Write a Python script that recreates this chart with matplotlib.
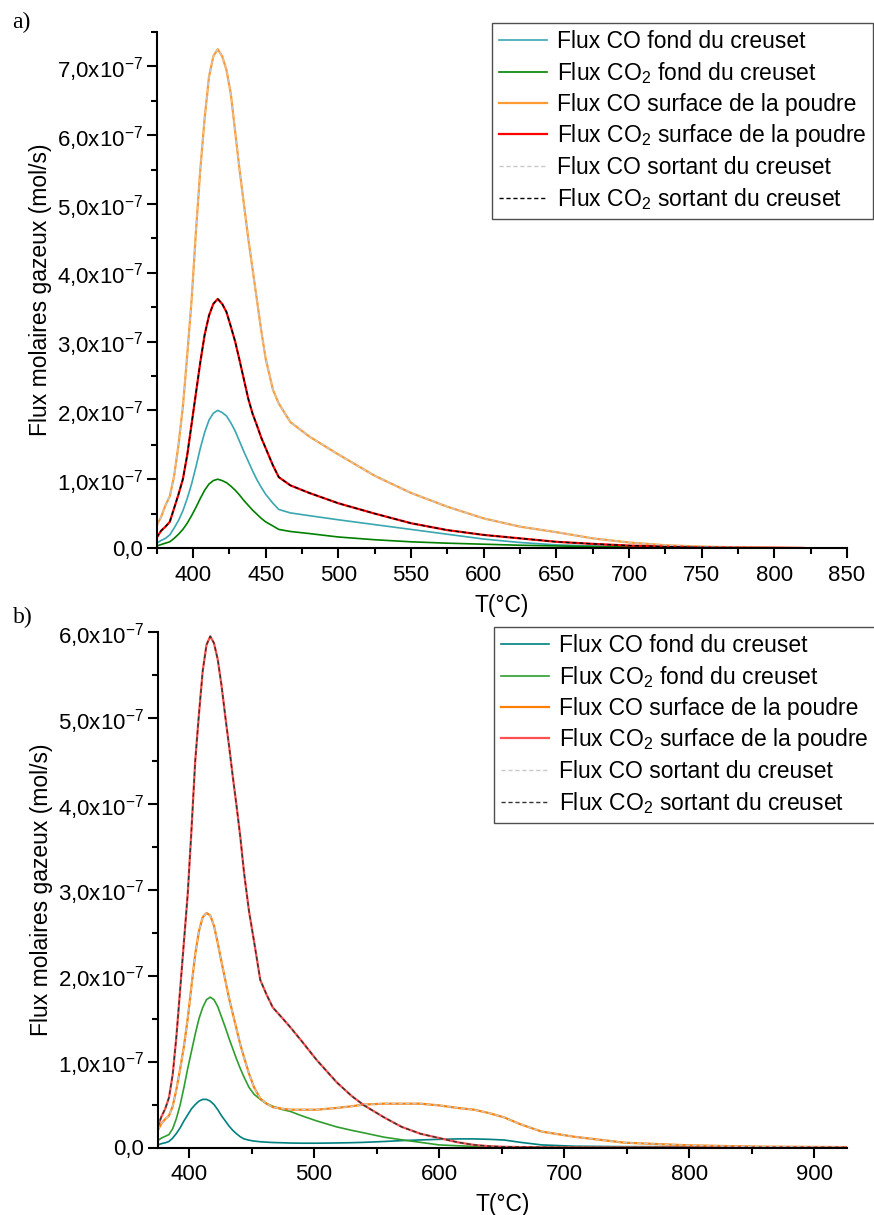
import numpy as np
import matplotlib
matplotlib.use('Agg')
import matplotlib.pyplot as plt
from matplotlib.ticker import MultipleLocator, FuncFormatter

plt.rcParams['font.family'] = ['Liberation Sans', 'DejaVu Sans']
plt.rcParams['mathtext.default'] = 'regular'

# ---- panel a data (flux in 1e-7 mol/s) ----
T_a = [375, 378, 381, 384, 387, 390, 393, 396, 399, 402,
       405, 408, 411, 414, 417, 420, 423, 426, 429, 432,
       435, 438, 441, 444, 447, 450, 455, 459, 467, 480,
       500, 525, 550, 575, 600, 625, 650, 675, 700, 725,
       750, 775, 800, 820]
co_fond_a = [0.07, 0.11, 0.14, 0.19, 0.29, 0.40, 0.54, 0.72, 0.93, 1.18,
             1.45, 1.68, 1.86, 1.96, 2.00, 1.97, 1.92, 1.82, 1.70, 1.55,
             1.40, 1.26, 1.12, 0.99, 0.88, 0.78, 0.65, 0.56, 0.51, 0.47,
             0.41, 0.34, 0.27, 0.20, 0.13, 0.08, 0.045, 0.03, 0.02, 0.012,
             0.008, 0.004, 0.002, 0.0]
co2_fond_a = [0.03, 0.05, 0.07, 0.09, 0.14, 0.20, 0.27, 0.36, 0.47, 0.59,
              0.72, 0.84, 0.93, 0.98, 1.00, 0.98, 0.95, 0.90, 0.84, 0.77,
              0.69, 0.62, 0.55, 0.49, 0.43, 0.38, 0.32, 0.27, 0.24, 0.21,
              0.16, 0.12, 0.09, 0.07, 0.055, 0.04, 0.03, 0.02, 0.015, 0.01,
              0.005, 0.003, 0.002, 0.0]
co_surf_a = [0.33, 0.45, 0.62, 0.75, 1.05, 1.50, 2.05, 2.80, 3.60, 4.60,
             5.50, 6.25, 6.85, 7.15, 7.25, 7.15, 6.95, 6.60, 6.05, 5.50,
             5.00, 4.50, 4.05, 3.60, 3.15, 2.75, 2.30, 2.10, 1.83, 1.62,
             1.36, 1.05, 0.80, 0.60, 0.43, 0.31, 0.23, 0.14, 0.08, 0.04,
             0.02, 0.01, 0.005, 0.0]
co2_surf_a = [0.15, 0.25, 0.31, 0.38, 0.58, 0.78, 1.00, 1.35, 1.80, 2.25,
              2.70, 3.10, 3.38, 3.55, 3.62, 3.55, 3.43, 3.22, 3.00, 2.73,
              2.45, 2.17, 1.95, 1.78, 1.60, 1.45, 1.20, 1.03, 0.91, 0.80,
              0.65, 0.50, 0.36, 0.26, 0.19, 0.14, 0.09, 0.06, 0.035, 0.02,
              0.01, 0.005, 0.003, 0.0]

# ---- panel b data ----
T_b = [375, 378, 381, 384, 387, 390, 393, 396, 399, 402,
       405, 408, 411, 414, 417, 420, 423, 426, 429, 432,
       435, 438, 441, 444, 448, 452, 457, 462, 467, 475,
       481, 490, 502, 518, 530, 540, 556, 570, 585, 600,
       615, 628, 640, 652, 665, 682, 708, 748, 800, 855,
       925]
co_fond_b = [0.03, 0.045, 0.055, 0.07, 0.11, 0.165, 0.23, 0.31, 0.38, 0.45,
             0.50, 0.54, 0.56, 0.56, 0.54, 0.50, 0.44, 0.37, 0.31, 0.25,
             0.20, 0.16, 0.125, 0.10, 0.085, 0.075, 0.067, 0.062, 0.058, 0.055,
             0.052, 0.05, 0.05, 0.053, 0.056, 0.06, 0.07, 0.08, 0.088, 0.095,
             0.10, 0.10, 0.095, 0.087, 0.06, 0.03, 0.015, 0.01, 0.01, 0.008,
             0.005]
co2_fond_b = [0.08, 0.11, 0.13, 0.15, 0.22, 0.34, 0.50, 0.70, 0.92, 1.12,
              1.32, 1.50, 1.63, 1.72, 1.75, 1.72, 1.64, 1.52, 1.40, 1.27,
              1.15, 1.03, 0.92, 0.82, 0.70, 0.62, 0.56, 0.51, 0.48, 0.44,
              0.42, 0.37, 0.31, 0.24, 0.20, 0.17, 0.12, 0.09, 0.06, 0.03,
              0.02, 0.013, 0.01, 0.007, 0.005, 0.003, 0.002, 0.0, 0.0, 0.0,
              0.0]
co_surf_b = [0.20, 0.28, 0.33, 0.37, 0.48, 0.68, 0.92, 1.18, 1.50, 1.88,
             2.25, 2.52, 2.68, 2.73, 2.70, 2.58, 2.38, 2.16, 1.95, 1.74,
             1.56, 1.38, 1.20, 1.05, 0.86, 0.70, 0.57, 0.51, 0.47, 0.45,
             0.44, 0.44, 0.44, 0.46, 0.48, 0.50, 0.51, 0.51, 0.51, 0.49,
             0.46, 0.44, 0.40, 0.35, 0.27, 0.185, 0.125, 0.056, 0.025, 0.01,
             0.005]
co2_surf_b = [0.24, 0.36, 0.45, 0.58, 0.85, 1.30, 1.85, 2.40, 2.95, 3.70,
              4.50, 5.05, 5.55, 5.85, 5.95, 5.87, 5.68, 5.38, 5.02, 4.68,
              4.32, 3.98, 3.62, 3.20, 2.75, 2.40, 1.95, 1.78, 1.63, 1.50,
              1.40, 1.24, 1.02, 0.76, 0.60, 0.49, 0.35, 0.24, 0.16, 0.11,
              0.06, 0.03, 0.015, 0.008, 0.005, 0.002, 0.0, 0.0, 0.0, 0.0,
              0.0]

labels = ['Flux CO fond du creuset', 'Flux CO$_2$ fond du creuset',
          'Flux CO surface de la poudre', 'Flux CO$_2$ surface de la poudre',
          'Flux CO sortant du creuset', 'Flux CO$_2$ sortant du creuset']


def yfmt(v, pos):
    if abs(v) < 1e-12:
        return '0,0'
    return ('%.1f' % (v / 1e-7)).replace('.', ',') + 'x10$^{-7}$'


def draw(ax, T, fond_co, fond_co2, surf_co, surf_co2, colors):
    T = np.array(T)
    s = 1e-7
    ax.plot(T, np.array(fond_co) * s, color=colors[0], lw=1.2, label=labels[0])
    ax.plot(T, np.array(fond_co2) * s, color=colors[1], lw=1.2, label=labels[1])
    ax.plot(T, np.array(surf_co) * s, color=colors[2], lw=1.6, label=labels[2])
    ax.plot(T, np.array(surf_co2) * s, color=colors[3], lw=1.6, label=labels[3])
    # outgoing flux equals surface flux: dashed lines drawn over them
    ax.plot(T, np.array(surf_co) * s, color='#c8c8c8', lw=1.0, ls=(0, (3, 2)), label=labels[4])
    ax.plot(T, np.array(surf_co2) * s, color=colors[4], lw=1.0, ls=(0, (3, 2)), label=labels[5])

    for side in ['top', 'right']:
        ax.spines[side].set_visible(False)
    for side in ['left', 'bottom']:
        ax.spines[side].set_linewidth(1.5)
    ax.yaxis.set_major_locator(MultipleLocator(1e-7))
    ax.yaxis.set_minor_locator(MultipleLocator(0.5e-7))
    ax.yaxis.set_major_formatter(FuncFormatter(yfmt))
    ax.tick_params(which='major', direction='out', length=7, width=1.5, labelsize=16, pad=3)
    ax.tick_params(which='minor', direction='out', length=4, width=1.5)
    ax.tick_params(axis='x', which='major', pad=5)
    ax.set_xlabel('T(°C)', fontsize=16.5, labelpad=6)
    ax.set_ylabel('Flux molaires gazeux (mol/s)', fontsize=16.5)
    ax.yaxis.set_label_coords(-0.152, 0.5)


fig = plt.figure(figsize=(8.74, 12.15), dpi=100)
W, H = 874, 1215

ax1 = fig.add_axes([156.7 / W, 1 - 548 / H, (847 - 156.7) / W, (548 - 32) / H])
draw(ax1, T_a, co_fond_a, co2_fond_a, co_surf_a, co2_surf_a,
     ['#3aa6b0', '#008000', '#ff9a30', '#ff0000', '#000000'])
ax1.set_xlim(375, 850)
ax1.set_ylim(0, 7.5e-7)
ax1.xaxis.set_major_locator(MultipleLocator(50))
ax1.xaxis.set_minor_locator(MultipleLocator(25))

ax2 = fig.add_axes([157.7 / W, 1 - 1147.5 / H, (847 - 157.7) / W, (1147.5 - 632) / H])
draw(ax2, T_b, co_fond_b, co2_fond_b, co_surf_b, co2_surf_b,
     ['#008080', '#2e9e2e', '#ff8000', '#ff5050', '#333333'])
ax2.set_xlim(375, 926)
ax2.set_ylim(0, 6.0e-7)
ax2.xaxis.set_major_locator(MultipleLocator(100))
ax2.xaxis.set_minor_locator(MultipleLocator(50))

for ax, x0, y0 in [(ax1, 492 / W, 1 - 23 / H), (ax2, 494 / W, 1 - 627 / H)]:
    leg = ax.legend(loc='upper left', bbox_to_anchor=(x0, y0), bbox_transform=fig.transFigure,
                    fontsize=16.5, frameon=True, fancybox=False, borderaxespad=0,
                    handlelength=2.1, handletextpad=0.42, labelspacing=0.3, borderpad=0.3)
    leg.get_frame().set_edgecolor('#222222')
    leg.get_frame().set_linewidth(1.0)

fig.text(12 / W, 1 - 12 / H, 'a)', family='Liberation Serif', fontsize=17, va='top', ha='left')
fig.text(13 / W, 1 - 607 / H, 'b)', family='Liberation Serif', fontsize=17, va='top', ha='left')

fig.savefig('out.png', dpi=100)
